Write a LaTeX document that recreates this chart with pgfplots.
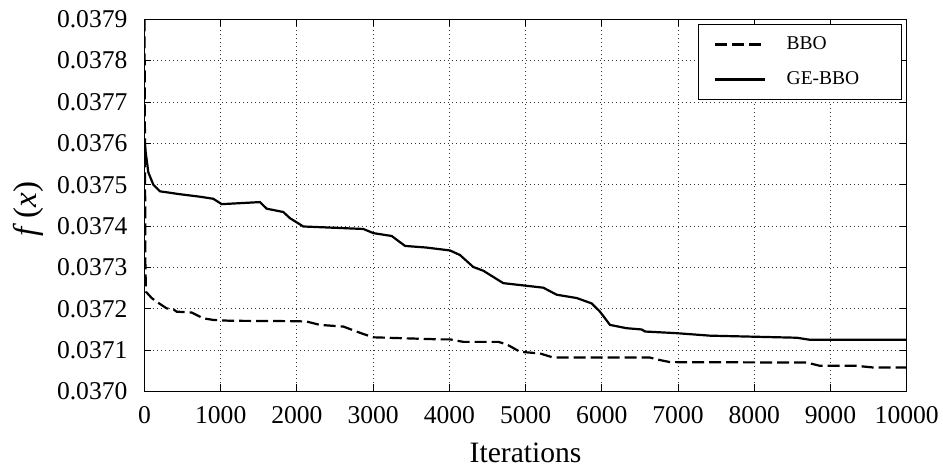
\documentclass[border=0pt]{standalone}
\usepackage{fontspec}
\setmainfont{Liberation Serif}
\usepackage{pgfplots}
\pgfplotsset{compat=1.18}
\begin{document}
\begin{tikzpicture}
\begin{axis}[
  name=ax,
  scale only axis,
  width=381.1pt, height=186.1pt,
  xmin=0, xmax=10000, ymin=0.0370, ymax=0.0379,
  xtick={0,1000,...,10000},
  ytick={0.0370,0.0371,0.0372,0.0373,0.0374,0.0375,0.0376,0.0377,0.0378,0.0379},
  yticklabels={0.0370,0.0371,0.0372,0.0373,0.0374,0.0375,0.0376,0.0377,0.0378,0.0379},
  scaled x ticks=false, scaled y ticks=false,
  /pgf/number format/set thousands separator={},
  /pgf/number format/assume math mode=true,
  tick label style={font=\fontsize{12.8}{14}\selectfont},
  yticklabel style={xshift=-5pt},
  xticklabel style={yshift=-4pt},
  tick align=inside,
  xtick pos=both, ytick pos=both,
  major tick length=3.5pt,
  axis line style={line width=0.6pt},
  every tick/.style={black, line width=0.5pt},
  grid=major,
  major grid style={black!80, line width=0.45pt, dash pattern=on 0.45pt off 1.6pt},
  xlabel={Iterations},
  ylabel={\textit{f}\,(\textit{x})},
  xlabel style={font=\fontsize{14.8}{16}\selectfont, at={(axis description cs:0.5,-0.165)}, anchor=center},
  ylabel style={font=\fontsize{16.5}{18}\selectfont, at={(axis description cs:-0.152,0.49)}, anchor=center},
  legend style={at={(1,1)}, anchor=north east, xshift=-2.35pt, yshift=-2.35pt,
    draw=black, line width=0.5pt, inner xsep=7.8pt, inner ysep=5.5pt, row sep=8.5pt,
    font=\fontsize{9.75}{11}\selectfont,
    nodes={inner sep=0pt, text height=7pt, text depth=2pt, text width=49.6pt, align=left}},
  /tikz/every odd column/.append style={column sep=10.3pt},
  legend image code/.code={\draw[#1] (0pt,0pt) -- (25pt,0pt);},
  clip=true,
]
\addplot[black, line width=1.1pt, dash pattern=on 6pt off 2.5pt] coordinates {
(0,0.0379) (12,0.03730) (20,0.037241) (94,0.037226) (160,0.037217) (291,0.037201)
(378,0.037199) (422,0.037193) (619,0.037191) (771,0.037177) (903,0.037173)
(1122,0.037171) (1997,0.037170) (2128,0.037169) (2303,0.037161) (2608,0.037157)
(2871,0.037139) (3002,0.037131) (3877,0.037126) (4008,0.037126) (4183,0.037120)
(4642,0.037120) (4752,0.037114) (4927,0.037096) (5189,0.037092) (5364,0.037082)
(6632,0.037082) (6763,0.037076) (6894,0.037071) (8688,0.037070) (8863,0.037062)
(9344,0.037062) (9562,0.037058) (10000,0.037058)
};
\addlegendentry{BBO}
\addplot[black, line width=1.1pt] coordinates {
(0,0.03761) (15,0.03758) (50,0.03753) (116,0.03750) (203,0.037484) (466,0.037477)
(728,0.037471) (903,0.037466) (1013,0.037453) (1515,0.037458) (1603,0.037442)
(1821,0.037434) (1909,0.037419) (2084,0.037399) (2871,0.037393) (3002,0.037383)
(3243,0.037376) (3418,0.037352) (3702,0.037348) (4008,0.037341) (4139,0.037330)
(4314,0.037301) (4445,0.037292) (4707,0.037262) (5232,0.037251) (5408,0.037234)
(5670,0.037226) (5867,0.037213) (5976,0.037193) (6107,0.037161) (6326,0.037153)
(6523,0.037150) (6567,0.037145) (6982,0.037141) (7419,0.037135) (8557,0.037130)
(8731,0.037125) (10000,0.037125)
};
\addlegendentry{GE-BBO}
\end{axis}
\pgfresetboundingbox
\useasboundingbox ([shift={(-72.25pt,-38.25pt)}]ax.south west) rectangle ([shift={(18.15pt,9.65pt)}]ax.north east);
\end{tikzpicture}
\end{document}
